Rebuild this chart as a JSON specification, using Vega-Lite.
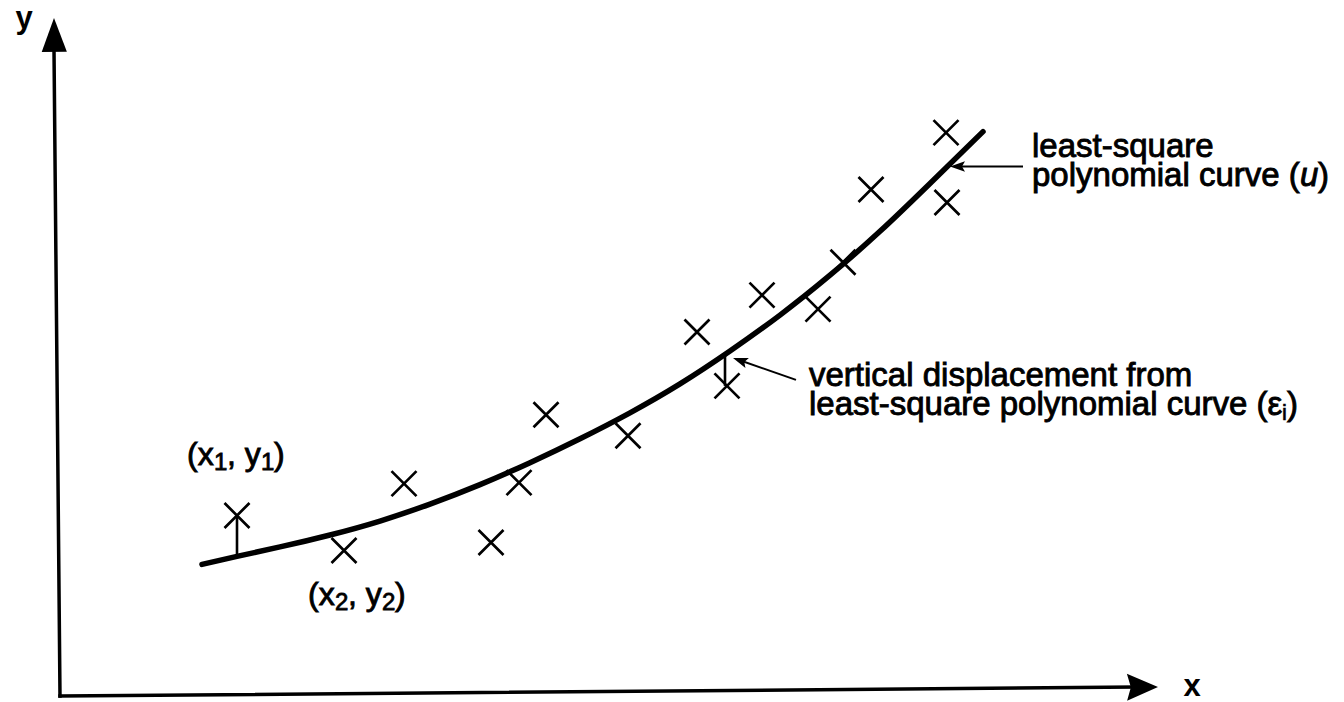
{
  "$schema": "https://vega.github.io/schema/vega-lite/v6.json",
  "width": 1344,
  "height": 702,
  "padding": 0,
  "autosize": {"type": "fit", "contains": "padding"},
  "background": "white",
  "config": {"view": {"stroke": null}},
  "datasets": {
    "axes": [
      {"x": 0, "y": 0, "x2": -0.6, "y2": 64.8},
      {"x": 0, "y": 0, "x2": 107.5, "y2": 0.9}
    ],
    "yTip": [{"x": -0.6, "y": 68.0}],
    "xTip": [{"x": 109.8, "y": 0.9}],
    "fit": [
      {"x": 14.2, "y": 13.2}, {"x": 17.7, "y": 14.0}, {"x": 22.0, "y": 14.95},
      {"x": 27.0, "y": 16.15}, {"x": 32.0, "y": 17.55}, {"x": 37.0, "y": 19.25},
      {"x": 42.0, "y": 21.2}, {"x": 47.0, "y": 23.4}, {"x": 52.0, "y": 25.8},
      {"x": 57.0, "y": 28.4}, {"x": 62.0, "y": 31.3}, {"x": 67.0, "y": 34.6},
      {"x": 72.0, "y": 38.2}, {"x": 77.0, "y": 42.2}, {"x": 82.0, "y": 46.6},
      {"x": 87.0, "y": 51.4}, {"x": 92.3, "y": 56.6}
    ],
    "samples": [
      {"x": 17.7, "y": 18.1}, {"x": 28.4, "y": 14.6}, {"x": 34.4, "y": 21.3},
      {"x": 43.1, "y": 15.4}, {"x": 45.9, "y": 21.4}, {"x": 48.6, "y": 28.2},
      {"x": 56.8, "y": 26.1}, {"x": 63.7, "y": 36.5}, {"x": 66.7, "y": 31.1},
      {"x": 70.2, "y": 40.2}, {"x": 75.8, "y": 38.8}, {"x": 78.3, "y": 43.5},
      {"x": 81.1, "y": 50.8}, {"x": 88.6, "y": 56.5}, {"x": 88.7, "y": 49.5}
    ],
    "residuals": [
      {"x": 17.7, "y": 14.0, "x2": 17.7, "y2": 18.1},
      {"x": 66.5, "y": 34.4, "x2": 66.5, "y2": 31.1}
    ],
    "pointers": [
      {"x": 96.3, "y": 53.1, "x2": 89.6, "y2": 53.1},
      {"x": 73.6, "y": 31.7, "x2": 67.9, "y2": 33.7}
    ],
    "tipLeft": [{"x": 89.0, "y": 53.1}],
    "tipSlant": [{"x": 67.3, "y": 33.9}],
    "axisNames": [
      {"x": -3.6, "y": 67.0, "text": "y"},
      {"x": 113.2, "y": 0.0, "text": "x"}
    ],
    "words": [
      {"x": 97.2, "y": 54.1, "text": "least-square"},
      {"x": 97.2, "y": 51.1, "text": "polynomial curve ("},
      {"x": 125.8, "y": 51.1, "text": ")"},
      {"x": 74.9, "y": 31.1, "text": "vertical displacement from"},
      {"x": 74.9, "y": 28.2, "text": "least-square polynomial curve (ε"},
      {"x": 122.7, "y": 28.2, "text": ")"}
    ],
    "italicWords": [{"x": 124.0, "y": 51.1, "text": "u"}],
    "smallSubs": [{"x": 122.2, "y": 27.7, "text": "i"}],
    "pointNames": [
      {"x": 12.7, "y": 23.2, "text": "(x"},
      {"x": 16.7, "y": 23.2, "text": ", y"},
      {"x": 21.4, "y": 23.2, "text": ")"},
      {"x": 24.8, "y": 9.1, "text": "(x"},
      {"x": 28.8, "y": 9.1, "text": ", y"},
      {"x": 33.5, "y": 9.1, "text": ")"}
    ],
    "pointSubs": [
      {"x": 15.4, "y": 22.7, "text": "1"},
      {"x": 20.1, "y": 22.7, "text": "1"},
      {"x": 27.5, "y": 8.6, "text": "2"},
      {"x": 32.2, "y": 8.6, "text": "2"}
    ]
  },
  "encoding": {
    "x": {"field": "x", "type": "quantitative", "axis": null,
          "scale": {"domain": [-6, 128.4], "nice": false, "zero": false}},
    "y": {"field": "y", "type": "quantitative", "axis": null,
          "scale": {"domain": [-0.4, 69.8], "nice": false, "zero": false}}
  },
  "layer": [
    {
      "data": {"name": "axes"},
      "mark": {"type": "rule", "color": "black", "strokeWidth": 3.5, "strokeCap": "square"},
      "encoding": {"x2": {"field": "x2"}, "y2": {"field": "y2"}}
    },
    {
      "data": {"name": "yTip"},
      "mark": {"type": "point", "shape": "M0,0L0.74,2L-0.74,2Z", "size": 1156,
               "filled": true, "color": "black", "opacity": 1, "angle": 359.5}
    },
    {
      "data": {"name": "xTip"},
      "mark": {"type": "point", "shape": "M0,0L-2,-0.87L-1.75,0L-2,0.87Z", "size": 961,
               "filled": true, "color": "black", "opacity": 1, "angle": 359.5}
    },
    {
      "data": {"name": "fit"},
      "mark": {"type": "line", "color": "black", "strokeWidth": 5.5,
               "interpolate": "natural", "strokeCap": "round"},
      "encoding": {}
    },
    {
      "data": {"name": "residuals"},
      "mark": {"type": "rule", "color": "black", "strokeWidth": 2.6},
      "encoding": {"x2": {"field": "x2"}, "y2": {"field": "y2"}}
    },
    {
      "data": {"name": "samples"},
      "mark": {"type": "point", "shape": "M-1,-1L1,1M-1,1L1,-1", "size": 625,
               "filled": false, "color": "black", "opacity": 1, "strokeWidth": 2.7}
    },
    {
      "data": {"name": "pointers"},
      "mark": {"type": "rule", "color": "black", "strokeWidth": 2},
      "encoding": {"x2": {"field": "x2"}, "y2": {"field": "y2"}}
    },
    {
      "data": {"name": "tipLeft"},
      "mark": {"type": "point", "shape": "M0,0L-2,-0.7L-1.6,0L-2,0.7Z", "size": 225,
               "filled": true, "color": "black", "opacity": 1, "angle": 180}
    },
    {
      "data": {"name": "tipSlant"},
      "mark": {"type": "point", "shape": "M0,0L-2,-0.7L-1.6,0L-2,0.7Z", "size": 225,
               "filled": true, "color": "black", "opacity": 1, "angle": 199.3}
    },
    {
      "data": {"name": "axisNames"},
      "mark": {"type": "text", "font": "Liberation Sans", "fontWeight": "bold", "fontSize": 31,
               "align": "center", "baseline": "alphabetic", "color": "black"},
      "encoding": {"text": {"field": "text"}}
    },
    {
      "data": {"name": "words"},
      "mark": {"type": "text", "font": "Liberation Sans", "fontSize": 33, "align": "left",
               "baseline": "alphabetic", "color": "black", "stroke": "black", "strokeWidth": 0.9},
      "encoding": {"text": {"field": "text"}}
    },
    {
      "data": {"name": "italicWords"},
      "mark": {"type": "text", "font": "Liberation Sans", "fontSize": 33, "fontStyle": "italic",
               "align": "left", "baseline": "alphabetic", "color": "black", "stroke": "black", "strokeWidth": 0.9},
      "encoding": {"text": {"field": "text"}}
    },
    {
      "data": {"name": "smallSubs"},
      "mark": {"type": "text", "font": "Liberation Sans", "fontSize": 22, "align": "left",
               "baseline": "alphabetic", "color": "black", "stroke": "black", "strokeWidth": 0.6},
      "encoding": {"text": {"field": "text"}}
    },
    {
      "data": {"name": "pointNames"},
      "mark": {"type": "text", "font": "Liberation Sans", "fontSize": 32, "align": "left",
               "baseline": "alphabetic", "color": "black", "stroke": "black", "strokeWidth": 0.9},
      "encoding": {"text": {"field": "text"}}
    },
    {
      "data": {"name": "pointSubs"},
      "mark": {"type": "text", "font": "Liberation Sans", "fontSize": 24, "align": "left",
               "baseline": "alphabetic", "color": "black", "stroke": "black", "strokeWidth": 0.8},
      "encoding": {"text": {"field": "text"}}
    }
  ]
}
